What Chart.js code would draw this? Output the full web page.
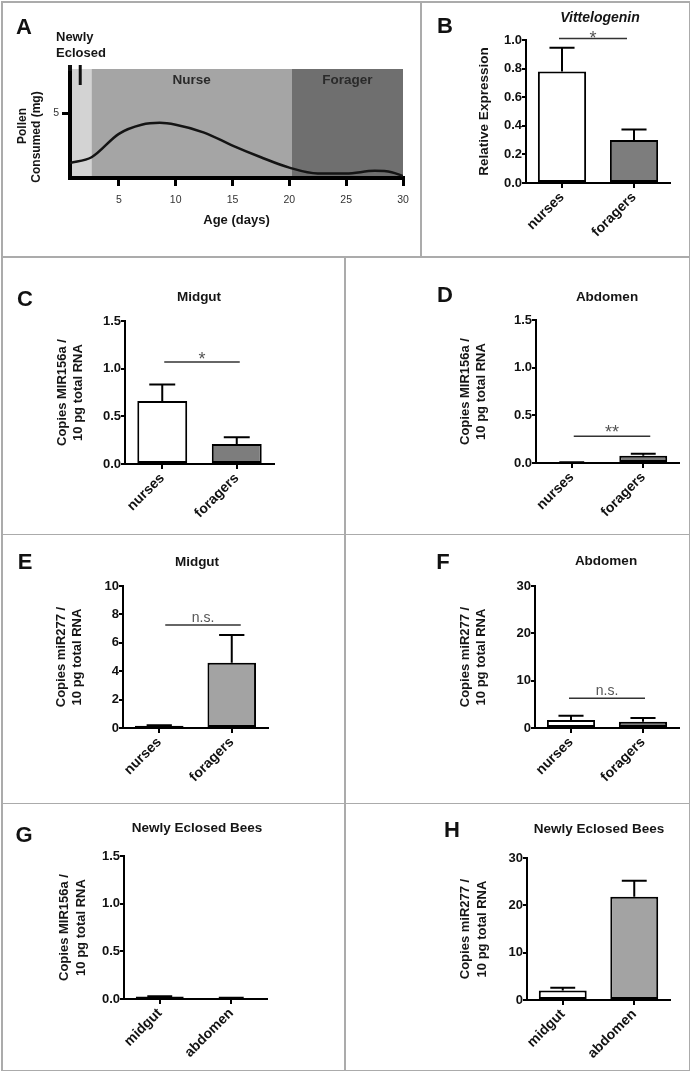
<!DOCTYPE html>
<html>
<head>
<meta charset="utf-8">
<script src="https://cdn.jsdelivr.net/npm/chart.js"></script>
<style>
html,body{margin:0;padding:0;background:#fff;}
body{width:693px;height:1073px;position:relative;overflow:hidden;font-family:"Liberation Sans",Arial,Helvetica,sans-serif;color:#1a1a1a;}
canvas{position:absolute;}
.t{position:absolute;font-weight:bold;white-space:nowrap;transform:translate(-50%,-50%);line-height:1;color:#151515;z-index:3;}
.letter{font-size:22px;color:#111;}
.title{font-size:13.5px;}
.rule{position:absolute;background:#ababab;z-index:4;}
</style>
</head>
<body>
<div class="rule" style="left:1px;top:1px;width:689px;height:1.5px"></div>
<div class="rule" style="left:1px;top:1069.5px;width:689px;height:1.5px"></div>
<div class="rule" style="left:1px;top:1px;width:1.5px;height:1070px"></div>
<div class="rule" style="left:688.5px;top:1px;width:1.5px;height:1070px"></div>
<div class="rule" style="left:420px;top:1px;width:1.5px;height:256px"></div>
<div class="rule" style="left:1px;top:256px;width:689px;height:1.5px"></div>
<div class="rule" style="left:344px;top:256px;width:1.5px;height:814px"></div>
<div class="rule" style="left:1px;top:533.5px;width:689px;height:1.5px"></div>
<div class="rule" style="left:1px;top:802.5px;width:689px;height:1.5px"></div>

<div class="t letter" style="left:24px;top:27px">A</div>
<div class="t letter" style="left:445px;top:26px">B</div>
<div class="t letter" style="left:25px;top:299px">C</div>
<div class="t letter" style="left:445px;top:295px">D</div>
<div class="t letter" style="left:25px;top:562px">E</div>
<div class="t letter" style="left:443px;top:562px">F</div>
<div class="t letter" style="left:24px;top:835px">G</div>
<div class="t letter" style="left:452px;top:830px">H</div>

<div style="position:absolute;left:56px;top:29px;font-weight:bold;font-size:13px;line-height:16px;color:#151515;z-index:3">Newly<br>Eclosed</div>

<div class="t title" style="left:600px;top:17px;font-style:italic;font-size:14px">Vittelogenin</div>
<div class="t title" style="left:199px;top:297px">Midgut</div>
<div class="t title" style="left:607px;top:297px">Abdomen</div>
<div class="t title" style="left:197px;top:562px">Midgut</div>
<div class="t title" style="left:606px;top:561px">Abdomen</div>
<div class="t title" style="left:197px;top:828px">Newly Eclosed Bees</div>
<div class="t title" style="left:599px;top:829px">Newly Eclosed Bees</div>

<script>
// ---------------- DATA ----------------
// Panel A: pollen consumption vs. age
const ageDays   = [0.7, 2.6, 5, 7, 8.6, 10, 12.5, 15, 17.5, 20, 22.5, 25, 27.5, 29, 30];
const pollenMg  = [1.15, 1.6, 3.4, 4.1, 4.25, 4.1, 3.5, 2.5, 1.6, 0.8, 0.35, 0.35, 0.55, 0.45, 0.15];
const ageTicks  = [5, 10, 15, 20, 25, 30];
const pollenTicks = [5];
const stageLabels   = ['', 'Nurse', 'Forager'];
const stageStartDay = [0.7, 2.6, 20.2];
const stageEndDay   = [2.6, 20.2, 30];
const eclosionDay   = 1.6;

// Bar panels
const workerGroups = ['nurses', 'foragers'];
const tissueGroups = ['midgut', 'abdomen'];

const vgMean = [0.78, 0.30];             const vgSem = [0.165, 0.075];          // B
const mir156MidgutMean = [0.66, 0.21];   const mir156MidgutSem = [0.175, 0.07]; // C
const mir156AbdMean = [0.005, 0.075];    const mir156AbdSem = [0.002, 0.022];   // D
const mir277MidgutMean = [0.15, 4.6];    const mir277MidgutSem = [0.05, 1.95];  // E
const mir277AbdMean = [1.7, 1.3];        const mir277AbdSem = [0.9, 0.8];       // F
const mir156NewMean = [0.025, 0.01];     const mir156NewSem = [0.004, 0.003];   // G
const mir277NewMean = [2.0, 21.8];       const mir277NewSem = [0.6, 3.4];       // H

// significance brackets (value on y axis + label)
const sigB = [1.01, '*'];
const sigC = [1.07, '*'];
const sigD = [0.28, '**'];
const sigE = [7.25, 'n.s.'];
const sigF = [6.3, 'n.s.'];

// ---------------- STYLE / LAYOUT ----------------
const FONT = '"Liberation Sans", Arial, Helvetica, sans-serif';
const DARK = '#7d7d7d', LIGHT = '#a3a3a3', WHITE = '#ffffff';
const stageColors = ['#d3d3d3', '#a5a5a5', '#6f6f6f'];

function addCanvas(rect) {
  const cv = document.createElement('canvas');
  cv.width = rect[2]; cv.height = rect[3];
  cv.style.left = rect[0] + 'px'; cv.style.top = rect[1] + 'px';
  cv.style.width = rect[2] + 'px'; cv.style.height = rect[3] + 'px';
  document.body.appendChild(cv);
  return cv;
}

const errorBars = {
  id: 'errorBars',
  afterDatasetsDraw(chart, args, opts) {
    const ctx = chart.ctx, meta = chart.getDatasetMeta(0), y = chart.scales.y;
    const vals = chart.data.datasets[0].data;
    ctx.save();
    ctx.strokeStyle = '#000'; ctx.lineWidth = 2;
    meta.data.forEach((bar, i) => {
      const top = y.getPixelForValue(vals[i] + opts.sem[i]);
      const half = bar.width * 0.26;
      ctx.beginPath();
      ctx.moveTo(bar.x, bar.y); ctx.lineTo(bar.x, top);
      ctx.moveTo(bar.x - half, top); ctx.lineTo(bar.x + half, top);
      ctx.stroke();
    });
    ctx.restore();
  }
};

const sigBracket = {
  id: 'sigBracket',
  afterDatasetsDraw(chart, args, opts) {
    if (!opts || !opts.sig) return;
    const ctx = chart.ctx, meta = chart.getDatasetMeta(0), y = chart.scales.y;
    const yy = y.getPixelForValue(opts.sig[0]);
    const x0 = meta.data[0].x + opts.dx[0], x1 = meta.data[1].x + opts.dx[1];
    ctx.save();
    ctx.strokeStyle = '#333'; ctx.lineWidth = 1.6;
    ctx.beginPath(); ctx.moveTo(x0, yy); ctx.lineTo(x1, yy); ctx.stroke();
    ctx.fillStyle = '#555'; ctx.textAlign = 'center'; ctx.textBaseline = 'alphabetic';
    const txt = opts.sig[1];
    if (txt === 'n.s.') {
      ctx.font = '14px ' + FONT;
      ctx.fillText(txt, (x0 + x1) / 2, yy - 3);
    } else {
      ctx.font = '18px ' + FONT;
      ctx.fillText(txt, (x0 + x1) / 2, yy + opts.starDy);
    }
    ctx.restore();
  }
};

function barPanel(p) {
  const cv = addCanvas(p.rect);
  const W = p.rect[2], H = p.rect[3];
  const [aL, aT, aR, aB] = p.area;
  const tFont = p.titleSize || 13;
  return new Chart(cv, {
    type: 'bar',
    data: {
      labels: p.labels,
      datasets: [{
        data: p.mean, backgroundColor: p.colors, borderColor: '#000', borderWidth: 2,
        borderSkipped: false, barPercentage: 0.67, categoryPercentage: 1
      }]
    },
    options: {
      responsive: false, animation: false,
      layout: { padding: { left: 0, top: aT, right: W - aR, bottom: H - aB - p.xH } },
      plugins: {
        legend: { display: false }, tooltip: { enabled: false }, title: { display: false },
        errorBars: { sem: p.sem },
        sigBracket: { sig: p.sig, dx: p.sigDx || [2, 2], starDy: p.starDy || 3 }
      },
      scales: {
        x: {
          type: 'category', offset: true,
          grid: { display: true, drawOnChartArea: false, drawTicks: true, tickLength: 5, offset: false, color: '#000', lineWidth: 2 },
          border: { display: true, color: '#000', width: 2 },
          ticks: { autoSkip: false, minRotation: 45, maxRotation: 45, color: '#111', padding: 1,
                   font: { family: FONT, size: 14, weight: 'bold' } },
          afterFit: s => { s.height = p.xH; }
        },
        y: {
          min: 0, max: p.max,
          grid: { display: true, drawOnChartArea: false, drawTicks: true, tickLength: 4, color: '#000', lineWidth: 2 },
          border: { display: true, color: '#000', width: 2 },
          ticks: { stepSize: p.step, color: '#111', padding: 0,
                   font: { family: FONT, size: 13, weight: 'bold' },
                   callback: v => Number(v).toFixed(p.dec) },
          title: { display: true, text: p.yTitle, color: '#151515',
                   font: { family: FONT, size: tFont, weight: 'bold', lineHeight: 1.3 },
                   padding: { top: p.titlePad, bottom: 0 } },
          afterFit: s => { s.width = aL; }
        }
      }
    },
    plugins: [errorBars, sigBracket]
  });
}

// ---------------- PANEL A ----------------
const stagePlugin = {
  id: 'stages',
  beforeDraw(chart) {
    const { ctx, chartArea: a, scales: { x } } = chart;
    ctx.save();
    stageStartDay.forEach((s, i) => {
      const x0 = x.getPixelForValue(s), x1 = x.getPixelForValue(stageEndDay[i]);
      ctx.fillStyle = stageColors[i];
      ctx.fillRect(x0, a.top, x1 - x0, a.bottom - a.top);
      if (stageLabels[i]) {
        ctx.fillStyle = '#2a2a2a';
        ctx.font = 'bold 13.5px ' + FONT;
        ctx.textAlign = 'center'; ctx.textBaseline = 'middle';
        ctx.fillText(stageLabels[i], (x0 + x1) / 2, a.top + 11);
      }
    });
    ctx.restore();
  },
  afterDraw(chart) {
    const { ctx, chartArea: a, scales: { x } } = chart;
    ctx.save();
    // eclosion marker
    const ex = x.getPixelForValue(eclosionDay);
    ctx.strokeStyle = '#111'; ctx.lineWidth = 3;
    ctx.beginPath(); ctx.moveTo(ex, a.top - 4); ctx.lineTo(ex, a.top + 16); ctx.stroke();
    // y axis extension
    ctx.lineWidth = 4;
    ctx.beginPath(); ctx.moveTo(a.left, a.top + 2); ctx.lineTo(a.left, a.top - 4); ctx.stroke();
    // y axis title
    ctx.fillStyle = '#151515';
    ctx.font = 'bold 12px ' + FONT;
    ctx.textAlign = 'center'; ctx.textBaseline = 'middle';
    ctx.translate(23, 126); ctx.rotate(-Math.PI / 2); ctx.fillText('Pollen', 0, 0);
    ctx.rotate(Math.PI / 2); ctx.translate(14, 11); ctx.rotate(-Math.PI / 2); ctx.fillText('Consumed (mg)', 0, 0);
    ctx.restore();
  }
};

(function () {
  const rect = [0, 0, 420, 256];
  const area = [70, 69, 403, 178];
  const xH = 50;
  const cv = addCanvas(rect);
  new Chart(cv, {
    type: 'line',
    data: {
      datasets: [{
        data: ageDays.map((d, i) => ({ x: d, y: pollenMg[i] })),
        borderColor: '#141414', borderWidth: 2.5, pointRadius: 0,
        cubicInterpolationMode: 'monotone', fill: false
      }]
    },
    options: {
      responsive: false, animation: false,
      layout: { padding: { left: 0, top: area[1], right: rect[2] - area[2], bottom: rect[3] - area[3] - xH } },
      plugins: { legend: { display: false }, tooltip: { enabled: false } },
      scales: {
        x: {
          type: 'linear', min: ageDays[0], max: 30,
          afterBuildTicks: s => { s.ticks = ageTicks.map(v => ({ value: v })); },
          grid: { display: true, drawOnChartArea: false, drawTicks: true, tickLength: 8, color: '#000', lineWidth: 3 },
          border: { display: true, color: '#000', width: 4 },
          ticks: { color: '#333', padding: 8, font: { family: FONT, size: 10.5 } },
          title: { display: true, text: 'Age (days)', color: '#151515',
                   font: { family: FONT, size: 13, weight: 'bold', lineHeight: 1.2 },
                   padding: { top: 0, bottom: 0 } },
          afterFit: s => { s.height = xH; }
        },
        y: {
          min: 0, max: 8.4,
          afterBuildTicks: s => { s.ticks = pollenTicks.map(v => ({ value: v })); },
          grid: { display: true, drawOnChartArea: false, drawTicks: true, tickLength: 8, color: '#000', lineWidth: 3 },
          border: { display: true, color: '#000', width: 4 },
          ticks: { color: '#333', padding: 3, font: { family: FONT, size: 10.5 } },
          afterFit: s => { s.width = area[0]; }
        }
      }
    },
    plugins: [stagePlugin]
  });
})();

// ---------------- BAR PANELS ----------------
barPanel({ rect: [421, 0, 270, 256], area: [105, 40, 249, 183], xH: 70,
  labels: workerGroups, mean: vgMean, sem: vgSem, colors: [WHITE, DARK],
  max: 1.0, step: 0.2, dec: 1, yTitle: ['Relative Expression'], titleSize: 13.5, titlePad: 55,
  sig: sigB, sigDx: [-3, -7], starDy: 5 });

barPanel({ rect: [0, 256, 345, 278], area: [125, 65, 274, 208], xH: 66,
  labels: workerGroups, mean: mir156MidgutMean, sem: mir156MidgutSem, colors: [WHITE, DARK],
  max: 1.5, step: 0.5, dec: 1, yTitle: ['Copies MIR156a /', '10 pg total RNA'], titlePad: 53.5,
  sig: sigC, sigDx: [2, 3], starDy: 0 });

barPanel({ rect: [345, 256, 346, 278], area: [191, 64, 334, 207], xH: 66,
  labels: workerGroups, mean: mir156AbdMean, sem: mir156AbdSem, colors: [WHITE, DARK],
  max: 1.5, step: 0.5, dec: 1, yTitle: ['Copies MIR156a /', '10 pg total RNA'], titlePad: 111.5,
  sig: sigD, sigDx: [2, 7], starDy: 2 });

barPanel({ rect: [0, 534, 345, 269], area: [123, 52, 268, 194], xH: 66,
  labels: workerGroups, mean: mir277MidgutMean, sem: mir277MidgutSem, colors: [WHITE, LIGHT],
  max: 10, step: 2, dec: 0, yTitle: ['Copies miR277 /', '10 pg total RNA'], titlePad: 52.5,
  sig: sigE, sigDx: [6, 9] });

barPanel({ rect: [345, 534, 346, 269], area: [190, 52, 334, 194], xH: 66,
  labels: workerGroups, mean: mir277AbdMean, sem: mir277AbdSem, colors: [WHITE, DARK],
  max: 30, step: 10, dec: 0, yTitle: ['Copies miR277 /', '10 pg total RNA'], titlePad: 111.5,
  sig: sigF, sigDx: [-2, 2] });

barPanel({ rect: [0, 803, 345, 267], area: [124, 53, 267, 196], xH: 66,
  labels: tissueGroups, mean: mir156NewMean, sem: mir156NewSem, colors: [WHITE, LIGHT],
  max: 1.5, step: 0.5, dec: 1, yTitle: ['Copies MIR156a /', '10 pg total RNA'], titlePad: 56 });

barPanel({ rect: [345, 803, 346, 267], area: [182, 55, 325, 197], xH: 66,
  labels: tissueGroups, mean: mir277NewMean, sem: mir277NewSem, colors: [WHITE, LIGHT],
  max: 30, step: 10, dec: 0, yTitle: ['Copies miR277 /', '10 pg total RNA'], titlePad: 112 });
</script>
</body>
</html>
